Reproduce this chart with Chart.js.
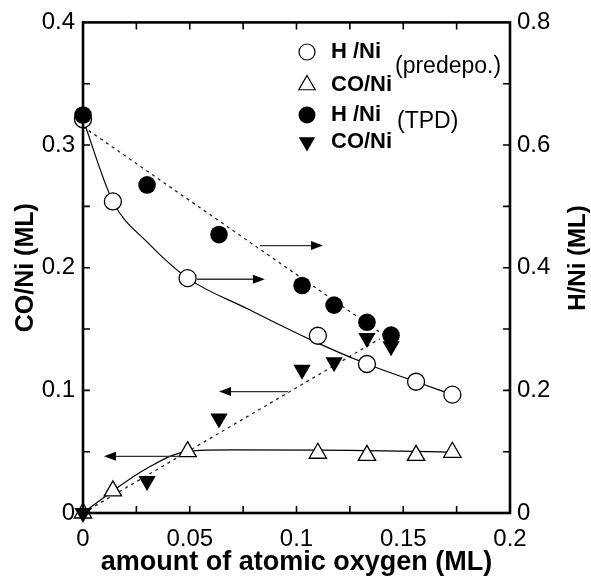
<!DOCTYPE html>
<html><head><meta charset="utf-8">
<script src="https://cdn.jsdelivr.net/npm/chart.js@4.4.1/dist/chart.umd.min.js"></script>
<style>html,body{margin:0;padding:0;background:#fff;}#wrap{width:591px;height:581px;}</style>
</head><body><div id="wrap"><canvas id="c" width="591" height="581"></canvas></div>
<script>
// ---- data ----
const oxygenPredepo = [0, 0.014, 0.049, 0.110, 0.133, 0.156, 0.173];
const hPredepo      = [0.642, 0.508, 0.383, 0.289, 0.243, 0.214, 0.193];
const coPredepo     = [0, 0.018, 0.050, 0.0487, 0.047, 0.047, 0.0495];
const oxygenTPD     = [0, 0.030, 0.0637, 0.1026, 0.1176, 0.133, 0.1443];
const hTPD          = [0.649, 0.535, 0.454, 0.371, 0.339, 0.311, 0.290];
const coTPD         = [0, 0.026, 0.077, 0.1168, 0.123, 0.1427, 0.136];
// fitted curves as drawn in the reference
const hPredepoFitX  = [0, 0.014, 0.030, 0.049, 0.077, 0.110, 0.133, 0.156, 0.173];
const hPredepoFit   = [0.642, 0.508, 0.442, 0.383, 0.333, 0.277, 0.243, 0.214, 0.193];
const coPredepoFitX = [0, 0.014, 0.030, 0.049, 0.070, 0.110, 0.133, 0.156, 0.173];
const coPredepoFit  = [0, 0.018, 0.0365, 0.0503, 0.0515, 0.0513, 0.0508, 0.0503, 0.0495];
const hTPDFitX      = [0, 0.1443];
const hTPDFit       = [0.630, 0.282];
const coTPDFitX     = [0, 0.139];
const coTPDFit      = [0, 0.142];
const xTickLabels   = [0, 0.05, 0.1, 0.15, 0.2];
const coTickLabels  = [0, 0.1, 0.2, 0.3, 0.4];
const hTickLabels   = [0, 0.2, 0.4, 0.6, 0.8];
// arrows: from x0 to x1 (oxygen) at CO/Ni level y
const arrowFrom = [0.0829, 0.0534, 0.096, 0.0454];
const arrowTo   = [0.1124, 0.0852, 0.0637, 0.0098];
const arrowY    = [0.218, 0.1906, 0.099, 0.0462];

const FONT = "'Liberation Sans', Arial, Helvetica, sans-serif";
const pts = (xs, ys) => xs.map((x, i) => ({x: x, y: ys[i]}));
const fmt = v => String(+Number(v).toFixed(3));

const overlay = {
  id: 'overlay',
  afterDatasetsDraw(chart) {
    const ctx = chart.ctx, xs = chart.scales.x, ys = chart.scales.y;
    ctx.save();
    for (let i = 0; i < arrowFrom.length; i++) {
      const x0 = xs.getPixelForValue(arrowFrom[i]), x1 = xs.getPixelForValue(arrowTo[i]);
      const y = ys.getPixelForValue(arrowY[i]);
      const dir = Math.sign(x1 - x0), hl = 12, hw = 4.5;
      ctx.strokeStyle = '#333'; ctx.lineWidth = 1.3;
      ctx.beginPath(); ctx.moveTo(x0, y); ctx.lineTo(x1 - dir * hl, y); ctx.stroke();
      ctx.fillStyle = '#000';
      ctx.beginPath(); ctx.moveTo(x1, y); ctx.lineTo(x1 - dir * hl, y - hw); ctx.lineTo(x1 - dir * hl, y + hw); ctx.closePath(); ctx.fill();
    }
    ctx.restore();
  },
  afterDraw(chart) {
    const ctx = chart.ctx, a = chart.chartArea;
    const xs = chart.scales.x, ys = chart.scales.y;
    ctx.save();
    ctx.strokeStyle = '#000'; ctx.lineWidth = 2.6;
    ctx.strokeRect(a.left, a.top, a.right - a.left, a.bottom - a.top);
    ctx.lineWidth = 1.6; const tl = 7;
    ctx.beginPath();
    for (let k = 1; k < 8; k++) {
      const px = xs.getPixelForValue(k * 0.025);
      ctx.moveTo(px, a.bottom); ctx.lineTo(px, a.bottom - tl);
      ctx.moveTo(px, a.top); ctx.lineTo(px, a.top + tl);
    }
    for (let k = 1; k < 8; k++) {
      const py = ys.getPixelForValue(k * 0.05);
      ctx.moveTo(a.left, py); ctx.lineTo(a.left + tl, py);
      ctx.moveTo(a.right, py); ctx.lineTo(a.right - tl, py);
    }
    ctx.stroke();
    ctx.save();
    ctx.translate(578, 258); ctx.rotate(-Math.PI / 2);
    ctx.font = 'bold 24px ' + FONT; ctx.fillStyle = '#000';
    ctx.textAlign = 'center'; ctx.textBaseline = 'middle';
    ctx.fillText('H/Ni (ML)', 0, 0);
    ctx.restore();
    // legend
    const lx = 307, rows = [52, 85, 115, 142];
    ctx.lineWidth = 1.2; ctx.strokeStyle = '#000';
    ctx.beginPath(); ctx.arc(lx, rows[0], 8, 0, Math.PI * 2); ctx.fillStyle = '#fff'; ctx.fill(); ctx.stroke();
    const r = 9.5;
    ctx.beginPath();
    ctx.moveTo(lx, rows[1] - r); ctx.lineTo(lx + r * 0.866, rows[1] + r / 2); ctx.lineTo(lx - r * 0.866, rows[1] + r / 2); ctx.closePath();
    ctx.fillStyle = '#fff'; ctx.fill(); ctx.stroke();
    ctx.fillStyle = '#000';
    ctx.beginPath(); ctx.arc(lx, rows[2], 8.5, 0, Math.PI * 2); ctx.fill();
    ctx.beginPath();
    ctx.moveTo(lx, rows[3] + r); ctx.lineTo(lx + r * 0.866, rows[3] - r / 2); ctx.lineTo(lx - r * 0.866, rows[3] - r / 2); ctx.closePath(); ctx.fill();
    ctx.textAlign = 'left'; ctx.textBaseline = 'middle';
    ctx.font = 'bold 22px ' + FONT;
    ctx.fillText('H /Ni', 331, rows[0]);
    ctx.fillText('CO/Ni', 331, rows[1]);
    ctx.fillText('H /Ni', 331, rows[2]);
    ctx.fillText('CO/Ni', 331, rows[3]);
    ctx.font = '23px ' + FONT;
    ctx.fillText('(predepo.)', 395, 67);
    ctx.fillText('(TPD)', 397, 122);
    ctx.restore();
  }
};

const tickFont = {family: FONT, size: 24};
new Chart(document.getElementById('c'), {
  type: 'scatter',
  data: {
    datasets: [
      {label: 'H /Ni (TPD)', data: pts(oxygenTPD, hTPD), yAxisID: 'y2', showLine: false,
       pointStyle: 'circle', pointRadius: 8.8, pointBackgroundColor: '#000', pointBorderColor: '#000', pointBorderWidth: 0, clip: false},
      {label: 'CO/Ni (TPD)', data: pts(oxygenTPD, coTPD), yAxisID: 'y', showLine: false,
       pointStyle: 'triangle', rotation: 180, pointRadius: 10, pointBackgroundColor: '#000', pointBorderColor: '#000', pointBorderWidth: 0, clip: false},
      {label: 'H /Ni (predepo.)', data: pts(oxygenPredepo, hPredepo), yAxisID: 'y2', showLine: false,
       pointStyle: 'circle', pointRadius: 8.5, pointBackgroundColor: '#fff', pointBorderColor: '#000', pointBorderWidth: 1.3, clip: false},
      {label: 'CO/Ni (predepo.)', data: pts(oxygenPredepo, coPredepo), yAxisID: 'y', showLine: false,
       pointStyle: 'triangle', pointRadius: 10, pointBackgroundColor: '#fff', pointBorderColor: '#000', pointBorderWidth: 1.3, clip: false},
      {label: 'H predepo fit', data: pts(hPredepoFitX, hPredepoFit), yAxisID: 'y2', showLine: true,
       borderColor: '#000', borderWidth: 1.2, cubicInterpolationMode: 'monotone', pointRadius: 0, clip: false},
      {label: 'CO predepo fit', data: pts(coPredepoFitX, coPredepoFit), yAxisID: 'y', showLine: true,
       borderColor: '#000', borderWidth: 1.2, cubicInterpolationMode: 'monotone', pointRadius: 0, clip: false},
      {label: 'H fit', data: pts(hTPDFitX, hTPDFit), yAxisID: 'y2', showLine: true,
       borderColor: '#222', borderWidth: 1.3, borderDash: [3, 4], pointRadius: 0, clip: false},
      {label: 'CO fit', data: pts(coTPDFitX, coTPDFit), yAxisID: 'y', showLine: true,
       borderColor: '#222', borderWidth: 1.3, borderDash: [3, 4], pointRadius: 0, clip: false}
    ]
  },
  options: {
    responsive: false, animation: false, devicePixelRatio: 1,
    layout: {padding: {top: 20, left: 0, right: 0, bottom: 0}},
    plugins: {legend: {display: false}, tooltip: {enabled: false}},
    scales: {
      x: {
        type: 'linear', min: 0, max: 0.2,
        afterBuildTicks: s => { s.ticks = xTickLabels.map(v => ({value: v})); },
        afterFit: s => { s.height = 68; },
        grid: {display: false, drawTicks: false}, border: {display: false},
        ticks: {font: tickFont, color: '#000', padding: 12, maxRotation: 0, autoSkip: false, callback: fmt},
        title: {display: true, text: 'amount of atomic oxygen (ML)', color: '#000',
                font: {family: FONT, size: 27, weight: 'bold', lineHeight: 1.2}, padding: {top: 0, bottom: 2}}
      },
      y: {
        type: 'linear', position: 'left', min: 0, max: 0.4,
        afterBuildTicks: s => { s.ticks = coTickLabels.map(v => ({value: v})); },
        afterFit: s => { s.width = 83; },
        grid: {display: false, drawTicks: false}, border: {display: false},
        ticks: {font: tickFont, color: '#000', padding: 8, autoSkip: false, callback: fmt},
        title: {display: true, text: 'CO/Ni (ML)', color: '#000',
                font: {family: FONT, size: 25, weight: 'bold', lineHeight: 1.2}, padding: {top: 11, bottom: 0}}
      },
      y2: {
        type: 'linear', position: 'right', min: 0, max: 0.8,
        afterBuildTicks: s => { s.ticks = hTickLabels.map(v => ({value: v})); },
        afterFit: s => { s.width = 81; },
        grid: {display: false, drawTicks: false}, border: {display: false},
        ticks: {font: tickFont, color: '#000', padding: 7, autoSkip: false, callback: fmt},
        title: {display: false}
      }
    }
  },
  plugins: [overlay]
});
</script>
</body></html>
